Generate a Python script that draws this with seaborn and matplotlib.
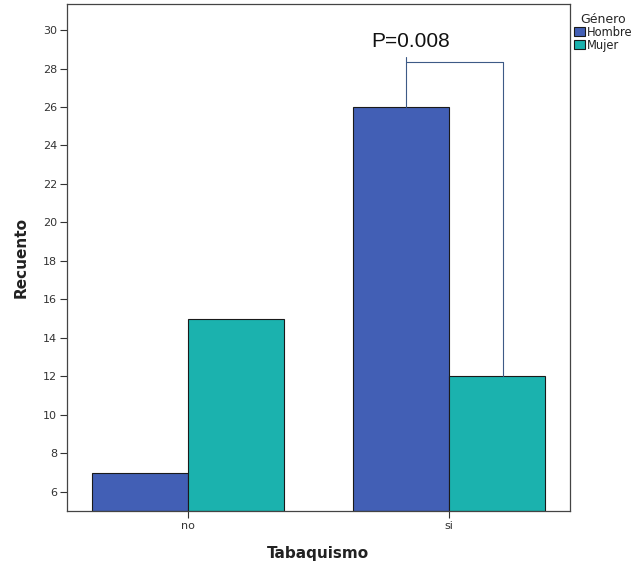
import pandas as pd
import seaborn as sns
import matplotlib.pyplot as plt

# Data
categories = ['no', 'si']
genders = ['Hombre', 'Mujer']
hombre_counts = [7, 26]
mujer_counts = [15, 12]
p_label = 'P=0.008'
y_ticks = list(range(6, 31, 2))

palette = {'Hombre': '#425fb5', 'Mujer': '#1bb2ae'}

df = pd.DataFrame({
    'Tabaquismo': categories * 2,
    'Género': ['Hombre'] * len(categories) + ['Mujer'] * len(categories),
    'Recuento': hombre_counts + mujer_counts,
})

sns.set_theme(style='white')
plt.rcParams['font.family'] = ['DejaVu Sans']

fig = plt.figure(figsize=(6.41, 5.67), dpi=100)
ax = fig.add_axes([0.1045, 0.0988, 0.7845, 0.894])

sns.barplot(data=df, x='Tabaquismo', y='Recuento', hue='Género',
            hue_order=genders, order=categories, palette=palette,
            width=0.736, edgecolor='#1a1a1a', linewidth=0.8,
            saturation=1, ax=ax, legend=True)

# bars start from the bottom of the axis (SPSS style)
for bar in ax.patches:
    h = bar.get_height()
    if h > 0:
        bar.set_y(5)
        bar.set_height(h - 5)

ax.set_xlim(-0.464, 1.464)
ax.set_ylim(5, 31.35)
ax.set_yticks(y_ticks)
ax.tick_params(axis='both', which='both', direction='out', length=5,
               width=0.8, color='#333333', labelsize=8, labelcolor='#333333',
               left=True, bottom=True, pad=2)
for s in ax.spines.values():
    s.set_visible(True)
    s.set_color('#444444')
    s.set_linewidth(0.9)

ax.set_xlabel('Tabaquismo', fontsize=11, fontweight='bold', color='#222222', labelpad=11)
ax.set_ylabel('Recuento', fontsize=11, fontweight='bold', color='#222222', labelpad=10)

# significance bracket
bx0, bx1 = 0.835, 1.207
by = 28.34
ax.plot([bx0, bx0], [hombre_counts[1], 28.6], color='#3d5a86', lw=0.8)
ax.plot([bx0, bx1], [by, by], color='#3d5a86', lw=0.8)
ax.plot([bx1, bx1], [by, mujer_counts[1]], color='#3d5a86', lw=0.8)
ax.text(0.855, 29.4, p_label, ha='center', va='center', fontsize=15,
        family=['Liberation Sans', 'DejaVu Sans'], color='#111111')

leg = ax.legend(title='Género', loc='upper left', bbox_to_anchor=(1.002, 0.99),
                frameon=False, fontsize=8.3, title_fontsize=9,
                handlelength=0.9, handleheight=0.9, handletextpad=0.15,
                labelspacing=0.0, borderaxespad=0.2, borderpad=0.1)
for t in leg.get_texts():
    t.set_color('#222222')

fig.savefig('out.png', dpi=100)
